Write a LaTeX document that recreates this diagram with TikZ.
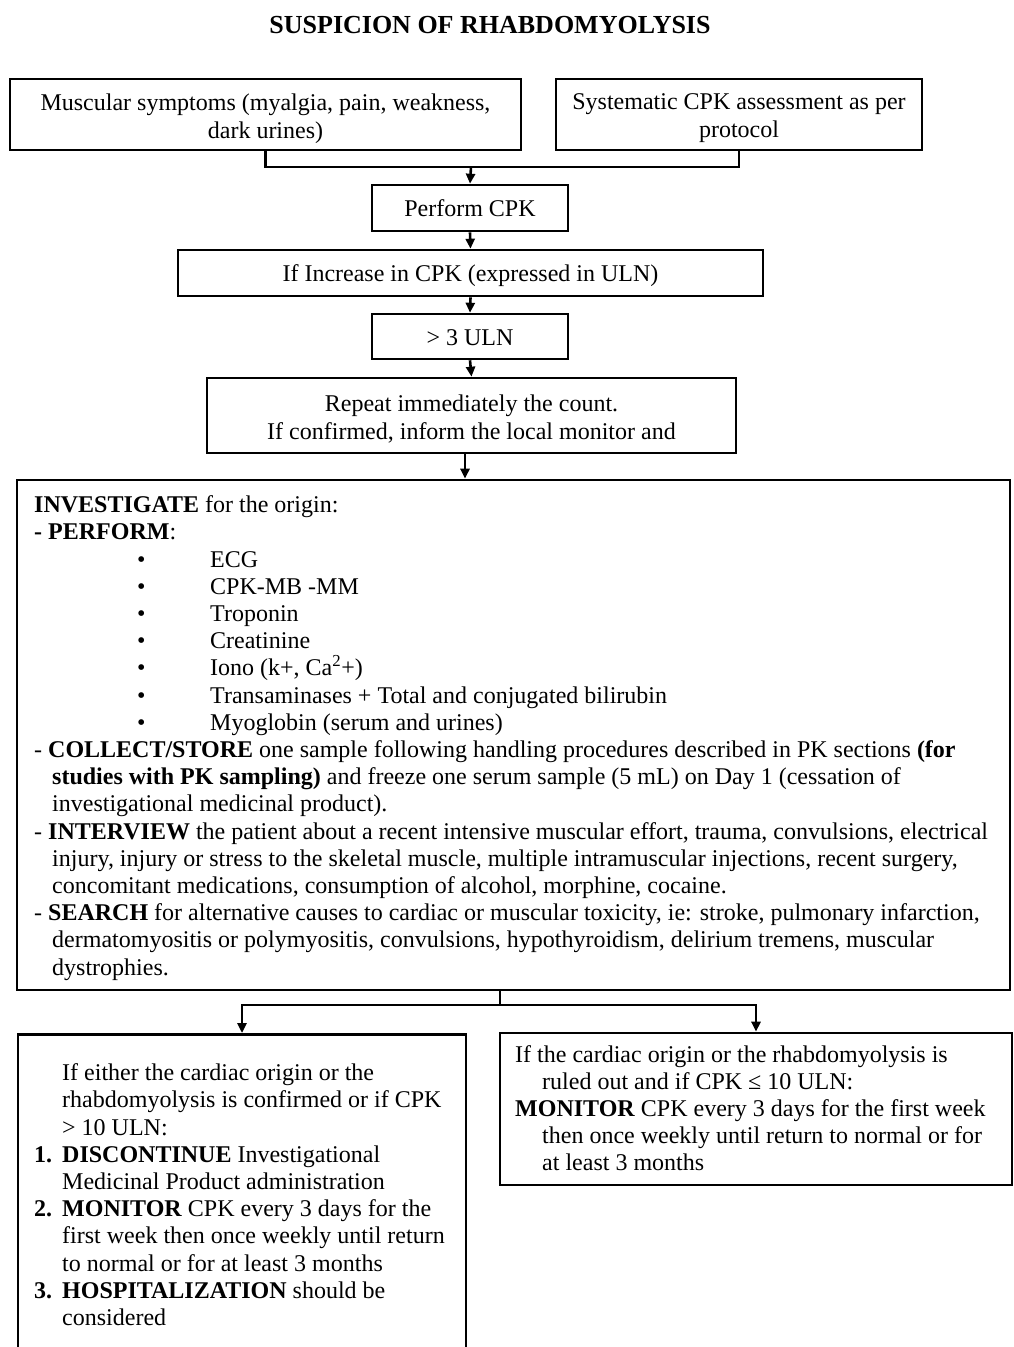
\documentclass[tikz,border=0pt]{standalone}
\usepackage{fontspec}
\setmainfont{Liberation Serif}
\usetikzlibrary{arrows.meta}
\begin{document}
\begin{tikzpicture}[x=1pt,y=-1pt,
  box/.style={draw, line width=2.6pt, inner sep=0pt},
  lbl/.style={inner sep=0pt, align=center, font=\fontsize{24}{28}\selectfont},
  conn/.style={line width=2.6pt},
  arr/.style={conn, -{Triangle[length=10pt,width=9pt]}},
  txt/.style={inner sep=0pt, align=left, anchor=north west, font=\fontsize{24}{27.2}\selectfont}
]
\useasboundingbox (0,0) rectangle (1013,1347);
\node[font=\bfseries\fontsize{26}{30}\selectfont] (title) at (490,25) {SUSPICION OF RHABDOMYOLYSIS};

\node[box, minimum width=511pt, minimum height=71pt] (sym) at (265.5,114.5) {};
\node[lbl] (symt) at (265.5,118.5) {Muscular symptoms (myalgia, pain, weakness,\\dark urines)};
\node[box, minimum width=366pt, minimum height=71pt] (sys) at (739,114.5) {};
\node[lbl] (syst) at (739,118.5) {Systematic CPK assessment as per\\protocol};
\node[box, minimum width=196pt, minimum height=46pt] (cpk) at (470,208) {};
\node[lbl] (cpkt) at (470,208.5) {Perform CPK};
\node[box, minimum width=585pt, minimum height=46pt] (inc) at (470.5,273) {};
\node[lbl] (inct) at (470.5,276) {If Increase in CPK (expressed in ULN)};
\node[box, minimum width=196pt, minimum height=45pt] (uln) at (470,336.5) {};
\node[lbl] (ulnt) at (470,338) {> 3 ULN};
\node[box, minimum width=529pt, minimum height=75pt] (rep) at (471.5,415.5) {};
\node[lbl] (rept) at (471.5,419) {Repeat immediately the count.\\If confirmed, inform the local monitor and};

\node[box, minimum width=993pt, minimum height=510pt] (inv) at (513.5,735) {};
\node[txt] (invtext) at (34,495.5) {%
\textbf{INVESTIGATE} for the origin:\\
\textbf{- PERFORM}:\\
\makebox[176pt][l]{\hspace*{103pt}•}ECG\\
\makebox[176pt][l]{\hspace*{103pt}•}CPK-MB -MM\\
\makebox[176pt][l]{\hspace*{103pt}•}Troponin\\
\makebox[176pt][l]{\hspace*{103pt}•}Creatinine\\
\makebox[176pt][l]{\hspace*{103pt}•}Iono (k+, Ca\textsuperscript{2}+)\\
\makebox[176pt][l]{\hspace*{103pt}•}Transaminases + Total and conjugated bilirubin\\
\makebox[176pt][l]{\hspace*{103pt}•}Myoglobin (serum and urines)\\
- \textbf{COLLECT/STORE} one sample following handling procedures described in PK sections \textbf{(for}\\
\hspace*{18pt}\textbf{studies with PK sampling)} and freeze one serum sample (5 mL) on Day 1 (cessation of\\
\hspace*{18pt}investigational medicinal product).\\
- \textbf{INTERVIEW} the patient about a recent intensive muscular effort, trauma, convulsions, electrical\\
\hspace*{18pt}injury, injury or stress to the skeletal muscle, multiple intramuscular injections, recent surgery,\\
\hspace*{18pt}concomitant medications, consumption of alcohol, morphine, cocaine.\\
- \textbf{SEARCH} for alternative causes to cardiac or muscular toxicity, ie: stroke, pulmonary infarction,\\
\hspace*{18pt}dermatomyositis or polymyositis, convulsions, hypothyroidism, delirium tremens, muscular\\
\hspace*{18pt}dystrophies.};

\node[box, minimum width=448pt, minimum height=340pt, anchor=north] (conf) at (242,1033) {};
\node[txt] (conftext) at (34,1063.5) {%
\hspace*{28pt}If either the cardiac origin or the\\
\hspace*{28pt}rhabdomyolysis is confirmed or if CPK\\
\hspace*{28pt}> 10 ULN:\\
\makebox[28pt][l]{\textbf{1.}}\textbf{DISCONTINUE} Investigational\\
\hspace*{28pt}Medicinal Product administration\\
\makebox[28pt][l]{\textbf{2.}}\textbf{MONITOR} CPK every 3 days for the\\
\hspace*{28pt}first week then once weekly until return\\
\hspace*{28pt}to normal or for at least 3 months\\
\makebox[28pt][l]{\textbf{3.}}\textbf{HOSPITALIZATION} should be\\
\hspace*{28pt}considered};

\node[box, minimum width=512pt, minimum height=152pt] (out) at (756,1109) {};
\node[txt] (outtext) at (515,1045) {%
If the cardiac origin or the rhabdomyolysis is\\
\hspace*{27pt}ruled out and if CPK ≤ 10 ULN:\\
\textbf{MONITOR} CPK every 3 days for the first week\\
\hspace*{27pt}then once weekly until return to normal or for\\
\hspace*{27pt}at least 3 months};

\coordinate (m1) at (471,167);
\coordinate (m2) at (500,1005);
\coordinate (m3) at (465,453);
\draw[conn] (sym.south) |- (m1) -| (sys.south);
\draw[arr] (m1) -- (cpk.north);
\draw[arr] (cpk.south) -- (inc.north);
\draw[arr] (inc.south) -- (uln.north);
\draw[arr] (uln.south) -- (rep.north);
\draw[arr] (m3 |- rep.south) -- (m3 |- inv.north);
\draw[conn] (m2 |- inv.south) -- (m2);
\draw[arr] (m2) -| (conf.north);
\draw[arr] (m2) -| (out.north);
\end{tikzpicture}
\end{document}
